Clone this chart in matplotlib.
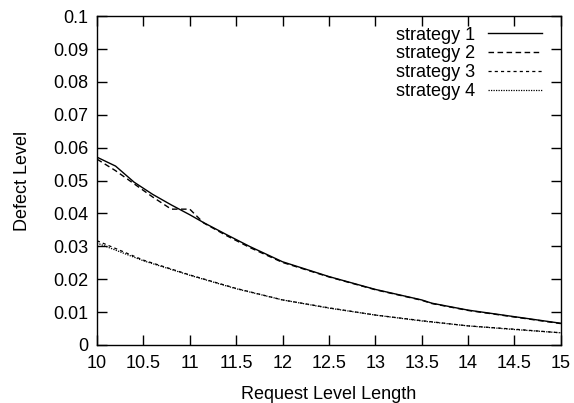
import matplotlib
matplotlib.use('Agg')
import matplotlib.pyplot as plt

plt.rcParams['font.family'] = ['Liberation Sans', 'DejaVu Sans']
plt.rcParams['font.size'] = 13

# values
x_a = [10.0, 10.2, 10.4, 10.6, 10.8, 11.0, 11.15, 11.4, 11.65, 12.0, 12.5, 13.0, 13.5, 13.61, 14.0, 14.5, 15.0]
strategy_1 = [0.0571, 0.0544, 0.0495, 0.0458, 0.0426, 0.0396, 0.0372, 0.0335, 0.0299, 0.0253, 0.0208, 0.0169, 0.0137, 0.0127, 0.0106, 0.0086, 0.0066]
strategy_2 = [0.0565, 0.0530, 0.0490, 0.0450, 0.0413, 0.0413, 0.0371, 0.0332, 0.0296, 0.0251, 0.0207, 0.0168, 0.0136, 0.0126, 0.0105, 0.0085, 0.0065]

x_b = [10.0, 10.5, 11.0, 11.5, 12.0, 12.5, 13.0, 13.5, 14.0, 14.5, 15.0]
strategy_3 = [0.0317, 0.0258, 0.0213, 0.0172, 0.0137, 0.0113, 0.0091, 0.0074, 0.0058, 0.0048, 0.0037]
strategy_4 = [0.0310, 0.0256, 0.0212, 0.0171, 0.0137, 0.0112, 0.0091, 0.0073, 0.0058, 0.0047, 0.0037]

x_ticks = [10, 10.5, 11, 11.5, 12, 12.5, 13, 13.5, 14, 14.5, 15]
x_labels = ['10', '10.5', '11', '11.5', '12', '12.5', '13', '13.5', '14', '14.5', '15']
y_ticks = [0, 0.01, 0.02, 0.03, 0.04, 0.05, 0.06, 0.07, 0.08, 0.09, 0.1]
y_labels = ['0', '0.01', '0.02', '0.03', '0.04', '0.05', '0.06', '0.07', '0.08', '0.09', '0.1']

fig = plt.figure(figsize=(5.74, 4.03), dpi=100)
ax = fig.add_axes([0.169, 0.144, 0.808, 0.816])

ax.plot(x_a, strategy_1, color='black', lw=1.0, ls='-', label='strategy 1')
ax.plot(x_a, strategy_2, color='black', lw=1.0, ls=(0, (4, 2.5)), label='strategy 2')
ax.plot(x_b, strategy_3, color='black', lw=0.9, ls=(0, (2.5, 2.5)), label='strategy 3')
ax.plot(x_b, strategy_4, color='black', lw=0.9, ls=(0, (1, 1)), label='strategy 4')

ax.set_xlim(10, 15)
ax.set_ylim(0, 0.1)
ax.set_xticks(x_ticks)
ax.set_xticklabels(x_labels)
ax.set_yticks(y_ticks)
ax.set_yticklabels(y_labels)
ax.tick_params(direction='in', length=7, width=1, top=True, right=True)
ax.tick_params(axis='x', pad=7)
ax.tick_params(axis='y', pad=6)
for s in ax.spines.values():
    s.set_linewidth(1.0)

ax.set_xlabel('Request Level Length', labelpad=10)
ax.set_ylabel('Defect Level', labelpad=16)

ax.legend(loc='upper right', frameon=False, markerfirst=False, handlelength=3.0,
          handletextpad=0.7, labelspacing=0.1, borderaxespad=0.0,
          bbox_to_anchor=(0.975, 0.99))

fig.savefig('out.png', dpi=100)
